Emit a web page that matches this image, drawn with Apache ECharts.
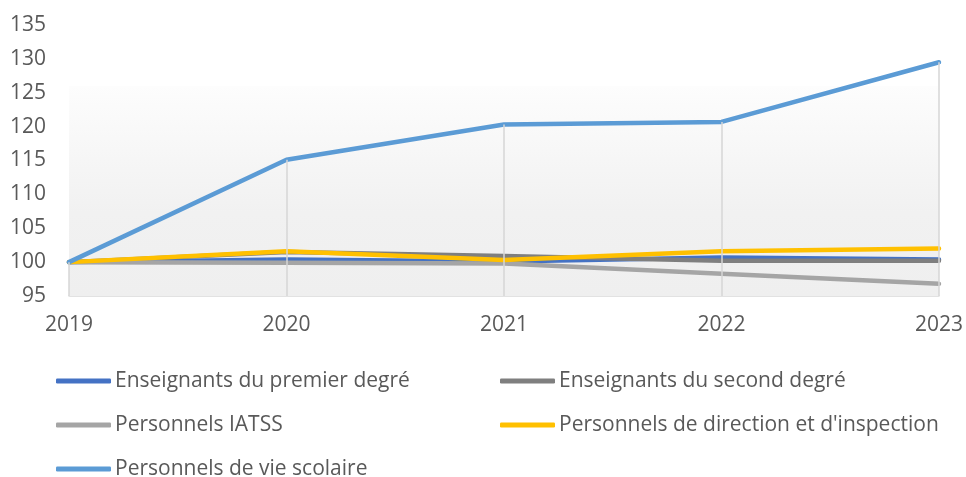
<!DOCTYPE html>
<html>
<head>
<meta charset="utf-8">
<script src="https://cdn.jsdelivr.net/npm/echarts@6/dist/echarts.min.js"></script>
<style>
  html, body { margin: 0; padding: 0; background: #fff; }
  #chart { width: 966px; height: 477px; }
</style>
</head>
<body>
<div id="chart"></div>
<script>
// années
const years = ['2019', '2020', '2021', '2022', '2023'];

// indices base 100 en 2019
const premierDegre = [100, 100.4, 100.1, 100.7, 100.4];
const secondDegre = [100, 101.5, 100.9, 100.2, 100.2];
const iatss = [100, 99.9, 99.8, 98.3, 96.8];
const direction = [100, 101.6, 100.3, 101.6, 102.0];
const vieScolaire = [100, 115.1, 120.3, 120.7, 129.5];

const seriesNames = [
  'Enseignants du premier degré',
  'Enseignants du second degré',
  'Personnels IATSS',
  "Personnels de direction et d'inspection",
  'Personnels de vie scolaire',
];
const seriesValues = [premierDegre, secondDegre, iatss, direction, vieScolaire];
const colors = ['#4472c4', '#7f7f7f', '#a5a5a5', '#ffc000', '#5b9bd5'];

const yMin = 95, yMax = 135, yStep = 5;
const panelTop = 126; // haut du fond dégradé

const font = 'Open Sans';
const textColor = '#595959';

// lignes de projection : du point le plus haut jusqu'à l'axe
const dropLines = years.map((y, i) => {
  const top = Math.max(...seriesValues.map(s => s[i]));
  return [{ coord: [y, top] }, { coord: [y, yMin] }];
});

const chart = echarts.init(document.getElementById('chart'), null, { renderer: 'canvas' });

const lineSeries = seriesNames.map((name, i) => ({
  name,
  type: 'line',
  data: seriesValues[i],
  showSymbol: false,
  symbol: 'none',
  z: 3,
  lineStyle: { color: colors[i], width: 4.5, cap: 'round', join: 'round' },
  itemStyle: { color: colors[i] },
}));

// légende : une par élément pour placer les deux colonnes
const legendPos = [
  { left: 56, center: 381 },
  { left: 500, center: 381 },
  { left: 56, center: 425 },
  { left: 500, center: 425 },
  { left: 56, center: 469 },
];
const legends = seriesNames.map((name, i) => ({
  data: [name],
  left: legendPos[i].left,
  top: legendPos[i].center - 12,
  padding: 0,
  icon: 'roundRect',
  itemWidth: 55,
  itemHeight: 5,
  itemGap: 4,
  selectedMode: false,
  textStyle: { fontFamily: font, fontSize: 21, color: textColor, lineHeight: 24, padding: [0, 0, 0, -1] },
}));

chart.setOption({
  animation: false,
  backgroundColor: '#fff',
  legend: legends,
  grid: { left: 69, right: 26, top: 25, bottom: 181 },
  xAxis: {
    type: 'category',
    data: years,
    boundaryGap: false,
    axisLine: { lineStyle: { color: '#d9d9d9', width: 1.5 } },
    axisTick: { show: false },
    splitLine: { show: false },
    axisLabel: { fontFamily: font, fontSize: 21, color: textColor, margin: 19 },
  },
  yAxis: {
    type: 'value',
    min: yMin,
    max: yMax,
    interval: yStep,
    axisLine: { show: false },
    axisTick: { show: false },
    splitLine: { show: false },
    axisLabel: { fontFamily: font, fontSize: 21, color: textColor, margin: 23 },
  },
  series: [
    {
      type: 'line',
      data: [],
      silent: true,
      z: 0,
      markArea: {
        silent: true,
        itemStyle: {
          color: {
            type: 'linear', x: 0, y: 0, x2: 0, y2: 1,
            colorStops: [
              { offset: 0, color: '#fdfdfd' },
              { offset: 0.6, color: '#f1f1f1' },
              { offset: 1, color: '#efefef' },
            ],
          },
        },
        data: [[{ coord: [years[0], panelTop] }, { coord: [years[years.length - 1], yMin] }]],
      },
    },
    {
      type: 'line',
      data: [],
      silent: true,
      z: 1,
      markLine: {
        silent: true,
        symbol: ['none', 'none'],
        label: { show: false },
        lineStyle: { color: '#d6d6d6', width: 1.5, type: 'solid' },
        data: dropLines,
      },
    },
    ...lineSeries,
  ],
});
</script>
</body>
</html>
